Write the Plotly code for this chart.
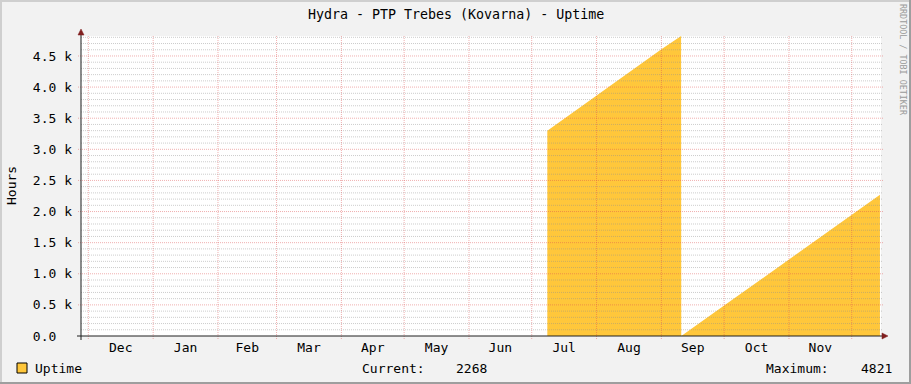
import plotly.graph_objects as go
import pandas as pd

# ---- data ----
dates = ["2011-07-08 11:00", "2011-08-01 00:00", "2011-09-01 00:00", "2011-09-10 10:00",
         "2011-09-10 12:00", "2011-10-01 00:00", "2011-11-01 00:00", "2011-12-14 12:00"]
uptime = [3300, 3865, 4610, 4821, 0, 490, 1235, 2268]

month_starts = ["2010-12-01", "2011-01-01", "2011-02-01", "2011-03-01", "2011-04-01",
                "2011-05-01", "2011-06-01", "2011-07-01", "2011-08-01", "2011-09-01",
                "2011-10-01", "2011-11-01", "2011-12-01"]
month_labels = ["Dec", "Jan", "Feb", "Mar", "Apr", "May", "Jun", "Jul", "Aug", "Sep", "Oct", "Nov"]

y_major = [0, 500, 1000, 1500, 2000, 2500, 3000, 3500, 4000, 4500]
y_labels = ["0.0\u00a0\u00a0", "0.5 k", "1.0 k", "1.5 k", "2.0 k", "2.5 k", "3.0 k",
            "3.5 k", "4.0 k", "4.5 k"]
y_minor = list(range(100, 4900, 100))

x_range = ["2010-11-27 12:00", "2011-12-15 00:00"]
y_range = [0, 4821]

current_val = "2268"
max_val = "4821"

# ---- styling ----
FONT = "DejaVu Sans Mono"
FILL = "#FFC73B"
GRID = "rgba(143,143,143,0.45)"
MGRID = "rgba(222,79,79,0.45)"
ARROW = "#801F1F"
AXIS = "#1F1F1F"

L, R, T, B = 81, 30, 36, 48
W, H = 911, 384
PW, PH = W - L - R, H - T - B


def px(xp):
    return (xp - L) / PW


def py(yp):
    return (H - B - yp) / PH


ms = pd.to_datetime(month_starts)
label_pos = [ms[i] + (ms[i + 1] - ms[i]) / 2 for i in range(len(month_labels))]

fig = go.Figure()
fig.add_trace(go.Scatter(
    x=pd.to_datetime(dates), y=uptime, mode="lines",
    line=dict(width=0, color=FILL), fill="tozeroy", fillcolor=FILL,
    hoverinfo="skip", showlegend=False, name="Uptime"))

shapes = []
dash = "1px,1px"
for v in y_minor:
    if v in y_major:
        continue
    shapes.append(dict(type="line", xref="paper", yref="y", x0=0, x1=1 + 2 / PW, y0=v, y1=v,
                       line=dict(color=GRID, width=1, dash=dash), layer="above"))
for v in y_major[1:]:
    shapes.append(dict(type="line", xref="paper", yref="y", x0=-3 / PW, x1=1 + 2 / PW, y0=v, y1=v,
                       line=dict(color=MGRID, width=1, dash=dash), layer="above"))
for d in month_starts:
    shapes.append(dict(type="line", xref="x", yref="paper", x0=d, x1=d, y0=-3 / PH, y1=1,
                       line=dict(color=MGRID, width=1, dash=dash), layer="above"))
# axes
shapes.append(dict(type="line", xref="paper", yref="paper", x0=-4 / PW, x1=1 + 3 / PW, y0=0, y1=0,
                   line=dict(color=AXIS, width=1), layer="above"))
shapes.append(dict(type="line", xref="paper", yref="paper", x0=0, x1=0, y0=-4 / PH, y1=1 + 3 / PH,
                   line=dict(color=AXIS, width=1), layer="above"))
# arrows
shapes.append(dict(type="path", xref="paper", yref="paper",
                   path=f"M {-3/PW} {1+1/PH} L {3/PW} {1+1/PH} L 0 {1+7/PH} Z",
                   fillcolor=ARROW, line=dict(color=ARROW, width=0.5), layer="above"))
shapes.append(dict(type="path", xref="paper", yref="paper",
                   path=f"M {1+1/PW} {-3/PH} L {1+1/PW} {3/PH} L {1+7/PW} 0 Z",
                   fillcolor=ARROW, line=dict(color=ARROW, width=0.5), layer="above"))
# legend swatch
shapes.append(dict(type="rect", xref="paper", yref="paper", x0=px(17), x1=px(27), y0=py(373), y1=py(363),
                   fillcolor=FILL, line=dict(color="#000000", width=1), layer="above"))
# frame (3D border)
shapes.append(dict(type="rect", xref="paper", yref="paper", x0=px(0), x1=px(W), y0=py(0), y1=py(2),
                   fillcolor="#CFCFCF", line=dict(width=0), layer="above"))
shapes.append(dict(type="rect", xref="paper", yref="paper", x0=px(0), x1=px(2), y0=py(0), y1=py(H),
                   fillcolor="#CFCFCF", line=dict(width=0), layer="above"))
shapes.append(dict(type="rect", xref="paper", yref="paper", x0=px(0), x1=px(W), y0=py(H - 2), y1=py(H),
                   fillcolor="#9E9E9E", line=dict(width=0), layer="above"))
shapes.append(dict(type="rect", xref="paper", yref="paper", x0=px(W - 2), x1=px(W), y0=py(0), y1=py(H),
                   fillcolor="#9E9E9E", line=dict(width=0), layer="above"))

tf = dict(family=FONT, size=13, color="#000000")
annotations = [
    dict(text="Hydra - PTP Trebes (Kovarna) - Uptime", xref="paper", yref="paper",
         x=px(456), y=py(14), xanchor="center", yanchor="middle", showarrow=False,
         font=dict(family=FONT, size=13.3, color="#000000")),
    dict(text="Hours", xref="paper", yref="paper", x=px(11), y=py(186), textangle=-90,
         xanchor="center", yanchor="middle", showarrow=False, font=tf),
    dict(text="RRDTOOL / TOBI OETIKER", xref="paper", yref="paper", x=px(903), y=py(60),
         textangle=90, xanchor="center", yanchor="middle", showarrow=False,
         font=dict(family=FONT, size=8.4, color="#9A9A9A")),
    dict(text="Uptime", xref="paper", yref="paper", x=px(33), y=py(368), xanchor="left",
         yanchor="middle", showarrow=False, font=tf),
    dict(text="Current:", xref="paper", yref="paper", x=px(360), y=py(368), xanchor="left",
         yanchor="middle", showarrow=False, font=tf),
    dict(text=current_val, xref="paper", yref="paper", x=px(489), y=py(368), xanchor="right",
         yanchor="middle", showarrow=False, font=tf),
    dict(text="Maximum:", xref="paper", yref="paper", x=px(764), y=py(368), xanchor="left",
         yanchor="middle", showarrow=False, font=tf),
    dict(text=max_val, xref="paper", yref="paper", x=px(894), y=py(368), xanchor="right",
         yanchor="middle", showarrow=False, font=tf),
]

fig.update_layout(
    width=W, height=H, margin=dict(l=L, r=R, t=T, b=B),
    paper_bgcolor="#F2F2F2", plot_bgcolor="#FFFFFF",
    shapes=shapes, annotations=annotations, showlegend=False,
    xaxis=dict(type="date", range=x_range, tickvals=label_pos, ticktext=month_labels,
               showgrid=False, zeroline=False, showline=False, ticks="",
               tickfont=tf, ticklabelstandoff=2, fixedrange=True),
    yaxis=dict(range=y_range, tickvals=y_major, ticktext=y_labels, showgrid=False,
               zeroline=False, showline=False, ticks="", tickfont=tf,
               ticklabelstandoff=8, fixedrange=True),
)

fig.write_html("out.html")
